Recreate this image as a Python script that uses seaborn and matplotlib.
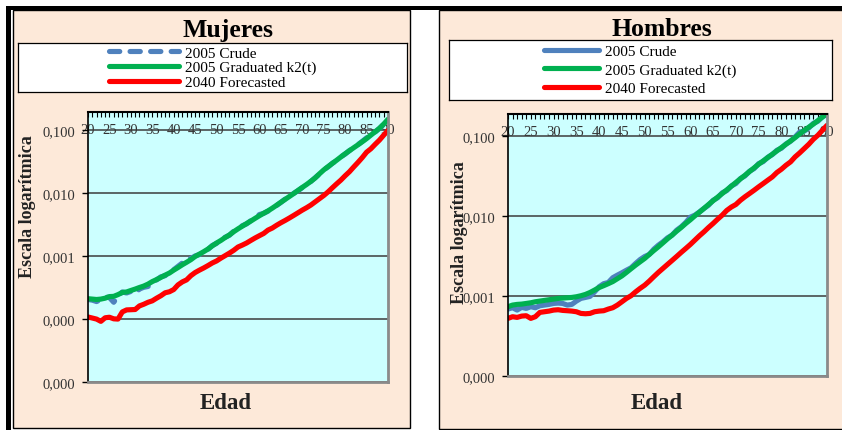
import matplotlib
matplotlib.use("Agg")
import matplotlib.pyplot as plt
from matplotlib.patches import Rectangle
from matplotlib.ticker import FixedLocator, MultipleLocator, FuncFormatter, NullLocator
import seaborn as sns

# Age axis (years)
ages = list(range(20, 91))

# Mortality rates by age, women
mujeres_crude = [
    0.000205, 0.000200, 0.000190, 0.000205, 0.000225, 0.000220, 0.000185, 0.000230, 0.000270, 0.000260,
    0.000275, 0.000255, 0.000300, 0.000320, 0.000330, 0.000370, 0.000420, 0.000470, 0.000490, 0.000530,
    0.000610, 0.000690, 0.000780, 0.000900, 0.000920, 0.001010, 0.00106, 0.00120, 0.00128, 0.00148,
    0.00160, 0.00190, 0.00200, 0.00215, 0.00250, 0.00268, 0.00305, 0.00326, 0.00368, 0.00405,
    0.00460, 0.00480, 0.00520, 0.00590, 0.00640, 0.00715, 0.00810, 0.00880, 0.01000, 0.01100,
    0.01230, 0.0140, 0.0154, 0.0177, 0.0202, 0.0237, 0.0262, 0.0300, 0.0332, 0.0380,
    0.0420, 0.0478, 0.0528, 0.0595, 0.0670, 0.0760, 0.0860, 0.0940, 0.1070, 0.1250,
    0.1480,
]
mujeres_graduated = [
    0.000211, 0.000208, 0.000205, 0.000208, 0.000215, 0.000228, 0.000230, 0.000245, 0.000265, 0.000270,
    0.000285, 0.000300, 0.000318, 0.000335, 0.000360, 0.000395, 0.000425, 0.000460, 0.000500, 0.000540,
    0.000600, 0.000660, 0.000730, 0.000800, 0.000880, 0.000990, 0.00108, 0.00118, 0.00130, 0.00146,
    0.00162, 0.00178, 0.00198, 0.00218, 0.00245, 0.00272, 0.00300, 0.00330, 0.00362, 0.00400,
    0.00440, 0.00482, 0.00525, 0.00580, 0.00645, 0.00720, 0.00800, 0.00890, 0.00990, 0.01110,
    0.01240, 0.0138, 0.0155, 0.0175, 0.0204, 0.0235, 0.0265, 0.0298, 0.0335, 0.0378,
    0.0425, 0.0475, 0.0530, 0.0590, 0.0660, 0.0740, 0.0840, 0.0950, 0.1080, 0.1260,
    0.1500,
]
mujeres_forecast = [
    1.08e-4, 1.04e-4, 1.00e-4, 9.2e-5, 1.05e-4, 1.07e-4, 1.01e-4, 1.00e-4, 1.30e-4, 1.40e-4,
    1.41e-4, 1.42e-4, 1.62e-4, 1.72e-4, 1.85e-4, 1.95e-4, 2.15e-4, 2.35e-4, 2.62e-4, 2.72e-4,
    2.95e-4, 3.50e-4, 3.90e-4, 4.20e-4, 4.90e-4, 5.50e-4, 6.00e-4, 6.50e-4, 7.10e-4, 7.80e-4,
    8.40e-4, 9.30e-4, 1.02e-3, 1.12e-3, 1.24e-3, 1.40e-3, 1.50e-3, 1.62e-3, 1.78e-3, 1.95e-3,
    2.12e-3, 2.30e-3, 2.60e-3, 2.80e-3, 3.10e-3, 3.40e-3, 3.70e-3, 4.05e-3, 4.45e-3, 4.90e-3,
    5.40e-3, 5.90e-3, 6.50e-3, 7.30e-3, 8.20e-3, 9.20e-3, 1.05e-2, 1.22e-2, 1.41e-2, 1.62e-2,
    1.90e-2, 2.20e-2, 2.62e-2, 3.10e-2, 3.70e-2, 4.50e-2, 5.10e-2, 6.00e-2, 7.00e-2, 8.40e-2,
    1.00e-1,
]

# Mortality rates by age, men
hombres_crude = [
    6.88e-4, 7.15e-4, 6.68e-4, 7.22e-4, 7.01e-4, 7.36e-4, 7.15e-4, 7.57e-4, 7.72e-4, 7.87e-4,
    8.09e-4, 8.17e-4, 8.09e-4, 7.72e-4, 7.87e-4, 8.66e-4, 9.35e-4, 9.62e-4, 9.91e-4, 1.13e-3,
    1.31e-3, 1.43e-3, 1.48e-3, 1.70e-3, 1.83e-3, 1.96e-3, 2.11e-3, 2.26e-3, 2.56e-3, 2.87e-3,
    3.13e-3, 3.32e-3, 3.87e-3, 4.34e-3, 4.78e-3, 5.36e-3, 5.79e-3, 6.68e-3, 7.36e-3, 8.34e-3,
    9.72e-3, 1.03e-2, 1.13e-2, 1.25e-2, 1.37e-2, 1.58e-2, 1.70e-2, 1.96e-2, 2.09e-2, 2.39e-2,
    2.56e-2, 2.96e-2, 3.19e-2, 3.65e-2, 3.94e-2, 4.55e-2, 4.82e-2, 5.46e-2, 5.90e-2, 6.68e-2,
    7.08e-2, 8.02e-2, 8.66e-2, 9.81e-2, 0.113, 0.116, 0.127, 0.145, 0.154, 0.176,
    0.188,
]
hombres_graduated = [
    7.36e-4, 7.72e-4, 7.87e-4, 7.94e-4, 8.09e-4, 8.25e-4, 8.49e-4, 8.66e-4, 8.83e-4, 9.00e-4,
    9.17e-4, 9.35e-4, 9.44e-4, 9.53e-4, 9.62e-4, 9.81e-4, 1.01e-3, 1.05e-3, 1.11e-3, 1.19e-3,
    1.28e-3, 1.35e-3, 1.43e-3, 1.52e-3, 1.65e-3, 1.79e-3, 1.98e-3, 2.20e-3, 2.44e-3, 2.69e-3,
    2.96e-3, 3.32e-3, 3.72e-3, 4.14e-3, 4.64e-3, 5.21e-3, 5.79e-3, 6.49e-3, 7.22e-3, 8.10e-3,
    9.00e-3, 1.01e-2, 1.12e-2, 1.25e-2, 1.40e-2, 1.56e-2, 1.73e-2, 1.92e-2, 2.13e-2, 2.37e-2,
    2.64e-2, 2.93e-2, 3.25e-2, 3.62e-2, 4.02e-2, 4.47e-2, 4.92e-2, 5.41e-2, 5.96e-2, 6.56e-2,
    7.22e-2, 7.94e-2, 8.74e-2, 9.62e-2, 0.107, 0.118, 0.130, 0.142, 0.157, 0.174,
    0.192,
]
hombres_forecast = [
    5.26e-4, 5.52e-4, 5.41e-4, 5.62e-4, 5.68e-4, 5.26e-4, 5.52e-4, 6.25e-4, 6.37e-4, 6.49e-4,
    6.68e-4, 6.75e-4, 6.62e-4, 6.56e-4, 6.49e-4, 6.37e-4, 6.07e-4, 6.01e-4, 6.07e-4, 6.37e-4,
    6.49e-4, 6.56e-4, 6.88e-4, 7.15e-4, 7.72e-4, 8.49e-4, 9.35e-4, 1.01e-3, 1.13e-3, 1.25e-3,
    1.37e-3, 1.54e-3, 1.75e-3, 1.98e-3, 2.22e-3, 2.49e-3, 2.79e-3, 3.13e-3, 3.52e-3, 3.94e-3,
    4.42e-3, 5.01e-3, 5.68e-3, 6.37e-3, 7.22e-3, 8.10e-3, 9.17e-3, 1.03e-2, 1.18e-2, 1.30e-2,
    1.40e-2, 1.58e-2, 1.75e-2, 1.92e-2, 2.11e-2, 2.33e-2, 2.56e-2, 2.82e-2, 3.10e-2, 3.52e-2,
    3.87e-2, 4.34e-2, 4.78e-2, 5.52e-2, 6.19e-2, 7.01e-2, 7.94e-2, 9.17e-2, 0.103, 0.119,
    0.137,
]

series_labels = ["2005 Crude", "2005 Graduated k2(t)", "2040 Forecasted"]
series_colors = ["#4F81BD", "#00B050", "#FF0000"]
x_tick_values = list(range(20, 91, 5))
panel_titles = ["Mujeres", "Hombres"]
y_label = "Escala logarítmica"
x_label = "Edad"

W, H = 842, 431
PEACH = "#FDE9D9"
PLOT_BG = "#CCFFFF"

sns.set_theme(style="white")
plt.rcParams["font.family"] = ["Liberation Serif", "DejaVu Serif"]

fig = plt.figure(figsize=(W / 100, H / 100), dpi=100)
fig.patch.set_facecolor("white")


def frac(x0, y0, x1, y1):
    """Pixel box (top-left origin) -> figure fraction [left, bottom, width, height]."""
    return [x0 / W, 1 - y1 / H, (x1 - x0) / W, (y1 - y0) / H]


def box(x0, y0, x1, y1, **kw):
    l, b, w, h = frac(x0, y0, x1, y1)
    fig.add_artist(Rectangle((l, b), w, h, transform=fig.transFigure, **kw))


# Panel backgrounds and the heavy black frame
box(13, 11, 409.5, 429, facecolor=PEACH, edgecolor="black", lw=1.0, zorder=-5)
box(439, 11, 850, 430, facecolor=PEACH, edgecolor="black", lw=1.0, zorder=-5)
box(6, 7, 842, 11, facecolor="black", edgecolor="none", zorder=-4)
box(6, 7, 11, 431, facecolor="black", edgecolor="none", zorder=-4)

panels = [
    dict(title=panel_titles[0],
         series=(mujeres_crude, mujeres_graduated, mujeres_forecast),
         crude_ls=(0, (2, 2)),
         legend_box=(18, 44, 407, 93), plot_box=(88, 113, 388, 383),
         ylim=(1e-5, 0.196), yticks=[1e-5, 1e-4, 1e-3, 1e-2, 1e-1],
         title_xy=(228, 30), ylabel_xy=(28, 207), xlabel_xy=(226, 404),
         handlelength=4.6, labelspacing=0.05),
    dict(title=panel_titles[1],
         series=(hombres_crude, hombres_graduated, hombres_forecast),
         crude_ls="-",
         legend_box=(449, 41, 832, 101), plot_box=(508, 115, 827, 377),
         ylim=(1e-4, 0.19), yticks=[1e-4, 1e-3, 1e-2, 1e-1],
         title_xy=(662, 30), ylabel_xy=(459, 233), xlabel_xy=(657, 404),
         handlelength=3.6, labelspacing=0.3),
]

rate_fmt = FuncFormatter(lambda v, pos: f"{v:.3f}".replace(".", ","))

for p in panels:
    ax = fig.add_axes(frac(*p["plot_box"]))
    ax.set_facecolor(PLOT_BG)
    ax.set_yscale("log")

    for vals, label, color, ls in zip(p["series"], series_labels, series_colors,
                                      [p["crude_ls"], "-", "-"]):
        sns.lineplot(x=ages, y=vals, ax=ax, color=color, lw=3.7, linestyle=ls,
                     label=label, legend=False, errorbar=None,
                     solid_capstyle="round", dash_capstyle="round")

    ax.set_xlim(20, 90)
    ax.set_ylim(*p["ylim"])
    ax.set_xlabel("")
    ax.set_ylabel("")

    # y axis: decades, labelled with three decimals and a decimal comma
    ax.yaxis.set_major_locator(FixedLocator(p["yticks"]))
    ax.yaxis.set_minor_locator(NullLocator())
    ax.yaxis.set_major_formatter(rate_fmt)
    ax.tick_params(axis="y", which="major", left=True, direction="out", length=4,
                   width=1, color="black", labelsize=10.5, labelcolor="#333333", pad=5)
    ax.yaxis.grid(True, which="major", color="#3c3c3c", lw=1.1)
    ax.xaxis.grid(False)
    ax.set_axisbelow(True)

    # x axis runs along the top, with labels hanging inside the plot
    ax.xaxis.set_major_locator(FixedLocator(x_tick_values))
    ax.xaxis.set_minor_locator(MultipleLocator(1))
    ax.tick_params(axis="x", which="both", bottom=False, labelbottom=False,
                   top=True, labeltop=True, direction="in", length=3.5,
                   width=0.8, color="black")
    ax.tick_params(axis="x", which="major", labelsize=10.5, labelcolor="#333333", pad=-17)

    ax.spines["left"].set_color("black")
    ax.spines["left"].set_linewidth(1.2)
    ax.spines["top"].set_color("black")
    ax.spines["top"].set_linewidth(1.5)
    for side in ("right", "bottom"):
        ax.spines[side].set_color("#8a8a8a")
        ax.spines[side].set_linewidth(2)

    # Legend in its own framed white box
    lax = fig.add_axes(frac(*p["legend_box"]))
    lax.set_facecolor("white")
    lax.set_xticks([])
    lax.set_yticks([])
    for s in lax.spines.values():
        s.set_color("black")
        s.set_linewidth(0.9)
    handles = ax.get_lines()[:3]
    lax.legend(handles, series_labels, loc="center", frameon=False, fontsize=11,
               handlelength=p["handlelength"], handletextpad=0.4,
               labelspacing=p["labelspacing"], borderpad=0, labelcolor="black")

    tx, ty = p["title_xy"]
    fig.text(tx / W, 1 - ty / H, p["title"], ha="center", va="center",
             fontsize=18.5, fontweight="bold", color="black")
    lx, ly = p["ylabel_xy"]
    fig.text(lx / W, 1 - ly / H, y_label, ha="center", va="center", rotation=90,
             fontsize=13, fontweight="bold", color="#222222")
    xx, xy = p["xlabel_xy"]
    fig.text(xx / W, 1 - xy / H, x_label, ha="center", va="center",
             fontsize=16.5, fontweight="bold", color="#222222")

fig.savefig("out.png", dpi=100, facecolor="white")
